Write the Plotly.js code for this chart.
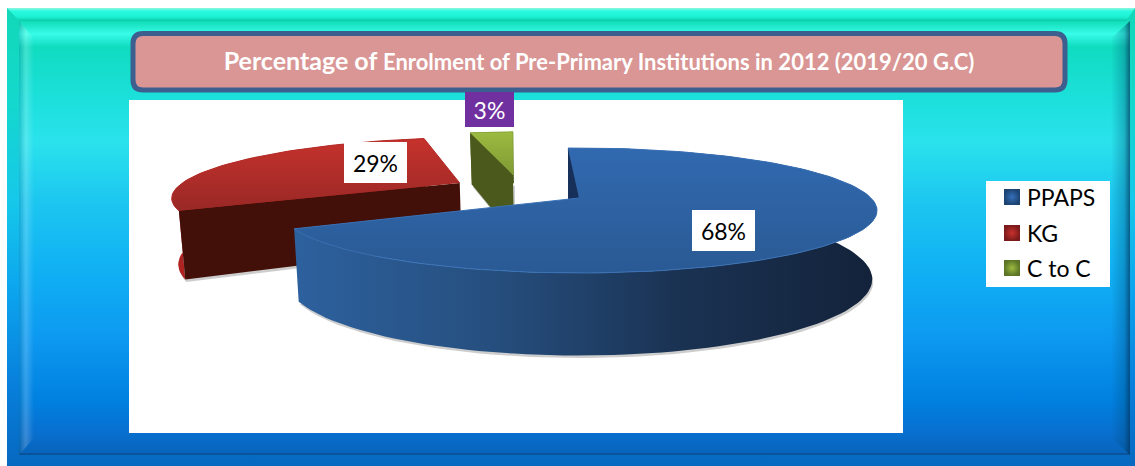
<!DOCTYPE html>
<html>
<head>
<meta charset="utf-8">
<script src="https://cdn.plot.ly/plotly-3.0.1.min.js"></script>
<style>
html,body{margin:0;padding:0;background:#fff;width:1135px;height:466px;overflow:hidden}
.b{position:absolute}
#chart{position:absolute;left:0;top:0;width:1135px;height:466px}
</style>
</head>
<body>
<div class="b" style="left:7px;top:8px;width:1128px;height:458px;background:linear-gradient(180deg,#12d8b8 0,#14d8cc 20%,#16c8ea 42%,#0ca4ee 62%,#0880dc 82%,#0668c0 100%)"></div>
<div class="b" style="left:7px;top:8px;width:1128px;height:13px;background:linear-gradient(180deg,#8ff5e0 0,#28fadf 25%,#1cf0d2 70%,#0cc8a8 100%);clip-path:polygon(0 0,100% 0,99.2% 100%,1.1% 100%)"></div>
<div class="b" style="left:19px;top:21px;width:1111px;height:434px;background:linear-gradient(180deg,#10dcb8 0,#38fce8 3%,#10dcc0 6%,#1ce0dc 18%,#2ae2ec 28%,#1cc6f0 42%,#10b0f4 58%,#0c98f0 74%,#0080e0 88%,#0870d0 95%,#0864bc 100%);border-bottom:2px solid #0a5398;box-sizing:border-box"></div>
<div class="b" style="left:19px;top:21px;width:15px;height:434px;background:linear-gradient(90deg,rgba(0,90,120,.22),rgba(255,255,255,.2) 45%,rgba(255,255,255,0));clip-path:polygon(0 0,100% 4%,100% 96%,0 100%)"></div>
<div class="b" style="left:1111px;top:21px;width:19px;height:434px;background:linear-gradient(90deg,rgba(0,60,110,0),rgba(0,70,110,.3) 70%,rgba(0,50,90,.7) 100%);clip-path:polygon(0 4%,100% 0,100% 100%,0 96%)"></div>
<div id="chart"></div>
<script>
// ---- data ----
var categories = ['PPAPS', 'KG', 'C to C'];
var shares = [68, 29, 3];
var sliceLabels = ['68%', '29%', '3%'];

// ---- styles ----
var topColors = [['#2a5a94', '#3169b0'], ['#992826', '#c6322c'], ['#7f9a34', '#9cbb40']];
var edgeColors = ['#16305a', '#431009', '#4b5a1c'];
var rimColors = [['#2d619e', '#264f7f', '#1a3252', '#13223a'], ['#b02422', '#8e1c1a'], ['#5f7024', '#4b5a1c']];
var rimLines = ['#3a72b6', '#b52c28', '#8aa838'];
var swatchEdge = ['#1d4372', '#7a1a1a', '#5c7426'];
var swatchCentre = ['#3470ba', '#c8322e', '#9cbb40'];
// exploded offset of each slice, in disc units (across, back-to-front)
var offsets = [[0, 0], [-0.43, -0.263], [-0.245, -0.415]];

// ---- projection of the tilted disc on to the page axes ----
var cam = {cx: 579, cy: 198, A: 292, B: 60, k: 0.2, D: 66, s: 0.016, rot: -2.6};
function project(u, v, lower) {
  var d = 1 - cam.k * v;
  var x = cam.A * u / d;
  var y = cam.B * v / d;
  if (lower) { x *= (1 - cam.s); y += cam.D / d; }
  return [cam.cx + x, cam.cy + y];
}
function pt(i, deg, lower, radius) {
  var r = radius === undefined ? 1 : radius;
  var a = deg * Math.PI / 180;
  return project(offsets[i][0] + r * Math.sin(a), offsets[i][1] - r * Math.cos(a), lower);
}
var total = shares.reduce(function (a, b) { return a + b; }, 0);
var spans = [], running = cam.rot;
shares.forEach(function (s) {
  var d = s / total * 360;
  spans.push([running, running + d]);
  running += d;
});
function arc(i, lower) {
  var out = [], a0 = spans[i][0], a1 = spans[i][1], n = Math.ceil((a1 - a0) / 2);
  for (var j = 0; j <= n; j++) out.push(pt(i, a0 + (a1 - a0) * j / n, lower));
  return out;
}
function scale(cols) {
  return cols.map(function (c, i) { return [i / (cols.length - 1), c]; });
}
function poly(points, extra) {
  var t = {
    type: 'scatter', mode: 'lines', fill: 'toself', hoverinfo: 'skip', showlegend: false,
    x: points.map(function (p) { return p[0]; }),
    y: points.map(function (p) { return p[1]; }),
    line: {width: 0}
  };
  for (var k in extra) t[k] = extra[k];
  return t;
}
function apex(i, lower) { return pt(i, 0, lower, 0); }

function sliceTraces(i) {
  var out = [];
  var top = arc(i, false), low = arc(i, true);
  // soft shadow under the slice
  out.push(poly(low.concat([apex(i, true)]).map(function (p) { return [p[0] + 1, p[1] + 2.5]; }),
    {fillcolor: 'rgba(90,90,90,0.3)'}));
  // outer wall
  out.push(poly(top.concat(low.slice().reverse()), {
    fillgradient: {type: 'horizontal', colorscale: scale(rimColors[i])},
    fillcolor: rimColors[i][0]
  }));
  // cut face at the slice's first edge
  var edgeAngle = spans[i][0];
  out.push(poly([pt(i, edgeAngle, false), apex(i, false), apex(i, true), pt(i, edgeAngle, true)],
    {fillcolor: edgeColors[i]}));
  // top face
  out.push(poly(top.concat([apex(i, false)]), {
    name: categories[i],
    fillgradient: {type: 'vertical', colorscale: scale(topColors[i])},
    fillcolor: topColors[i][0],
    line: {width: 1, color: rimLines[i]}
  }));
  return out;
}

var traces = [].concat(sliceTraces(1), sliceTraces(2), sliceTraces(0));

// legend swatches
var legendY = [197, 233, 268];
categories.forEach(function (c, i) {
  traces.push({
    type: 'scatter', mode: 'markers', x: [1012], y: [legendY[i]], name: c, hoverinfo: 'skip', showlegend: false,
    marker: {symbol: 'square', size: 16, color: swatchEdge[i],
      gradient: {type: 'radial', color: swatchCentre[i]},
      line: {width: 0}}
  });
});

var labelPos = [[723.5, 230.5, 63, 41], [375.5, 162.5, 63, 41], [489.5, 109.5, 49, 35]];
var labelFill = ['#ffffff', '#ffffff', '#7030a0'];
var labelText = ['#000000', '#000000', '#ffffff'];
var annotations = sliceLabels.map(function (t, i) {
  return {
    x: labelPos[i][0], y: labelPos[i][1], xref: 'x', yref: 'y', text: t, showarrow: false,
    width: labelPos[i][2], height: labelPos[i][3], bgcolor: labelFill[i], borderpad: 0, borderwidth: 0,
    align: 'center', valign: 'middle', font: {family: 'Lato, sans-serif', size: 23, color: labelText[i]}
  };
});
categories.forEach(function (c, i) {
  annotations.push({
    x: 1025, y: legendY[i], xref: 'x', yref: 'y', text: c, showarrow: false, xanchor: 'left', yanchor: 'middle',
    font: {family: 'Lato, sans-serif', size: 23, color: '#000000'}
  });
});

var r = 10, L = 133, T = 33.5, R = 1065, Bm = 90;
var titleBox = 'M' + (L + r) + ' ' + T + ' H' + (R - r) + ' Q' + R + ' ' + T + ' ' + R + ' ' + (T + r) +
  ' V' + (Bm - r) + ' Q' + R + ' ' + Bm + ' ' + (R - r) + ' ' + Bm + ' H' + (L + r) +
  ' Q' + L + ' ' + Bm + ' ' + L + ' ' + (Bm - r) + ' V' + (T + r) + ' Q' + L + ' ' + T + ' ' + (L + r) + ' ' + T + ' Z';

var layout = {
  width: 1135, height: 466, margin: {l: 0, r: 0, t: 0, b: 0},
  paper_bgcolor: 'rgba(0,0,0,0)', plot_bgcolor: 'rgba(0,0,0,0)', showlegend: false,
  title: {
    text: '<span style="font-size:25px">Percentage of </span>Enrolment of Pre-Primary Institutions in 2012 (2019/20 G.C)',
    font: {family: 'Lato, sans-serif', size: 22, color: '#ffffff', weight: 700},
    x: 599 / 1135, xref: 'paper', xanchor: 'center', y: 1 - 62 / 466, yref: 'paper', yanchor: 'middle'
  },
  xaxis: {range: [0, 1135], visible: false, fixedrange: true, domain: [0, 1]},
  yaxis: {range: [466, 0], visible: false, fixedrange: true, domain: [0, 1]},
  shapes: [
    {type: 'rect', layer: 'below', xref: 'x', yref: 'y', x0: 129, x1: 903, y0: 100, y1: 433, fillcolor: '#ffffff', line: {width: 0}},
    {type: 'rect', layer: 'below', xref: 'x', yref: 'y', x0: 986, x1: 1110, y0: 181, y1: 287, fillcolor: '#ffffff', line: {width: 0}},
    {type: 'path', layer: 'below', xref: 'x', yref: 'y', path: titleBox, fillcolor: '#d99694', line: {color: '#3c5f8f', width: 5}}
  ],
  annotations: annotations
};
Plotly.newPlot('chart', traces, layout, {displayModeBar: false, staticPlot: true});
</script>
</body>
</html>
